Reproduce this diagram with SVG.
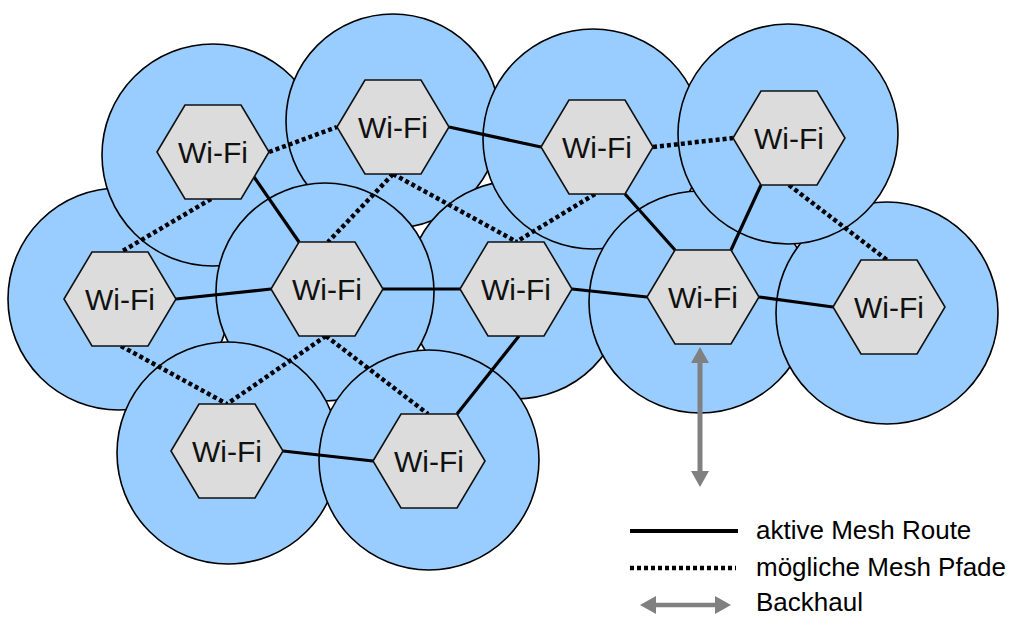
<svg xmlns="http://www.w3.org/2000/svg" width="1013" height="617" viewBox="0 0 1013 617">
<style>
.cov{fill:#99ccff;stroke:#000;stroke-width:1.6}
.hex{fill:#dcdcdc;stroke:#111;stroke-width:1.6}
.lbl{font-family:"Liberation Sans",Arial,sans-serif;font-size:30px;fill:#111;text-anchor:middle}
.act{stroke:#000;stroke-width:3.2;fill:none}
.pos{stroke:#000;stroke-width:4.5;stroke-dasharray:4 3;fill:none}
.bh{stroke:#808080;stroke-width:5;fill:none;marker-start:url(#ah);marker-end:url(#ah)}
.leg{font-family:"Liberation Sans",Arial,sans-serif;font-size:26px;fill:#000}
</style>
<defs>
<marker id="ah" viewBox="0 0 16 18" refX="0" refY="9" markerWidth="16" markerHeight="18" markerUnits="userSpaceOnUse" orient="auto-start-reverse">
<path d="M0,0 L16,9 L0,18 z" fill="#808080"/>
</marker>
<polygon id="hx" points="-56,0 -28,-47 28,-47 56,0 28,47 -28,47"/>
</defs>
<rect width="1013" height="617" fill="#fff"/>
<g id="coverage">
<circle class="cov" cx="119" cy="299" r="111"/>
<circle class="cov" cx="213" cy="155" r="111"/>
<circle class="cov" cx="393" cy="121" r="107"/>
<circle class="cov" cx="516" cy="290" r="109"/>
<circle class="cov" cx="325" cy="292" r="109"/>
<circle class="cov" cx="228" cy="453" r="111"/>
<circle class="cov" cx="429" cy="460" r="110"/>
<circle class="cov" cx="593" cy="139" r="110"/>
<circle class="cov" cx="700" cy="302" r="111"/>
<circle class="cov" cx="887" cy="313" r="111"/>
<circle class="cov" cx="788" cy="134" r="110"/>
</g>
<g id="connectors">
<line class="act" x1="449" y1="127" x2="541" y2="147"/>
<line class="act" x1="254" y1="177" x2="299" y2="242"/>
<line class="act" x1="176" y1="299" x2="271" y2="289"/>
<line class="act" x1="383" y1="289" x2="460" y2="289"/>
<line class="act" x1="572" y1="289" x2="647" y2="297"/>
<line class="act" x1="625" y1="194" x2="675" y2="250"/>
<line class="act" x1="761" y1="185" x2="731" y2="250"/>
<line class="act" x1="759" y1="297" x2="833" y2="307"/>
<line class="act" x1="519" y1="336" x2="457" y2="414"/>
<line class="act" x1="283" y1="451" x2="373" y2="461"/>
<line class="pos" x1="269" y1="152" x2="337" y2="127"/>
<line class="pos" x1="211" y1="199" x2="121" y2="252"/>
<line class="pos" x1="393" y1="174" x2="328" y2="242"/>
<line class="pos" x1="393" y1="174" x2="517" y2="242"/>
<line class="pos" x1="595" y1="194" x2="516" y2="242"/>
<line class="pos" x1="653" y1="147" x2="733" y2="138"/>
<line class="pos" x1="789" y1="185" x2="887" y2="260"/>
<line class="pos" x1="121" y1="346" x2="227" y2="404"/>
<line class="pos" x1="326" y1="336" x2="227" y2="404"/>
<line class="pos" x1="326" y1="336" x2="428" y2="414"/>
<line class="bh" x1="700" y1="363" x2="700" y2="471"/>
</g>
<g id="n1"><use href="#hx" class="hex" x="213" y="152"/><text class="lbl" x="213" y="163">Wi-Fi</text></g>
<g id="n2"><use href="#hx" class="hex" x="393" y="127"/><text class="lbl" x="393" y="138">Wi-Fi</text></g>
<g id="n3"><use href="#hx" class="hex" x="597" y="147"/><text class="lbl" x="597" y="158">Wi-Fi</text></g>
<g id="n4"><use href="#hx" class="hex" x="789" y="138"/><text class="lbl" x="789" y="149">Wi-Fi</text></g>
<g id="n5"><use href="#hx" class="hex" x="120" y="299"/><text class="lbl" x="120" y="310">Wi-Fi</text></g>
<g id="n6"><use href="#hx" class="hex" x="327" y="289"/><text class="lbl" x="327" y="300">Wi-Fi</text></g>
<g id="n7"><use href="#hx" class="hex" x="516" y="289"/><text class="lbl" x="516" y="300">Wi-Fi</text></g>
<g id="n8"><use href="#hx" class="hex" x="703" y="297"/><text class="lbl" x="703" y="308">Wi-Fi</text></g>
<g id="n9"><use href="#hx" class="hex" x="889" y="307"/><text class="lbl" x="889" y="318">Wi-Fi</text></g>
<g id="n10"><use href="#hx" class="hex" x="227" y="451"/><text class="lbl" x="227" y="462">Wi-Fi</text></g>
<g id="n11"><use href="#hx" class="hex" x="429" y="461"/><text class="lbl" x="429" y="472">Wi-Fi</text></g>
<g id="legend">
<line class="act" x1="630" y1="531" x2="738" y2="531" style="stroke-width:4"/>
<text class="leg" x="756" y="539">aktive Mesh Route</text>
<line class="pos" x1="630" y1="568" x2="736" y2="568"/>
<text class="leg" x="756" y="576">mögliche Mesh Pfade</text>
<line class="bh" x1="656" y1="605" x2="715" y2="605" style="stroke-width:4.5"/>
<text class="leg" x="756" y="611">Backhaul</text>
</g>
</svg>
